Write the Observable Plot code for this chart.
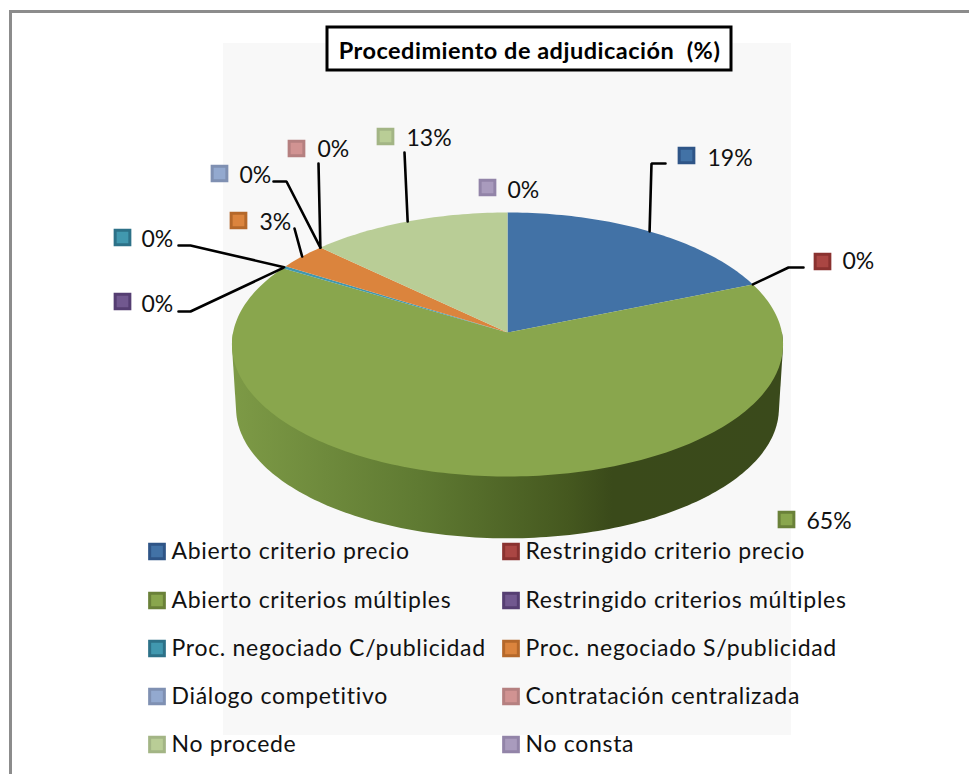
<!DOCTYPE html>
<html><head><meta charset="utf-8">
<script src="https://cdn.jsdelivr.net/npm/d3@7"></script>
<script src="https://cdn.jsdelivr.net/npm/@observablehq/plot@0.6"></script>
<style>html,body{margin:0;padding:0;background:#fff}svg{display:block}</style>
</head><body><div id="chart"></div>
<script>
// Data
const categories = ["Abierto criterio precio","Restringido criterio precio","Abierto criterios múltiples","Restringido criterios múltiples","Proc. negociado C/publicidad","Proc. negociado S/publicidad","Diálogo competitivo","Contratación centralizada","No procede","No consta"];
const values = [18.8,0,64.8,0,0.3,3.2,0,0,12.9,0];
const valueLabels = ["19%","0%","65%","0%","0%","3%","0%","0%","13%","0%"];
const fills = ["#4272a6","#aa4643","#89a64d","#71588f","#4198af","#db843d","#93a9cf","#d19392","#b9cd96","#a99bbd"];
const strokes = ["#2f5587","#8a3230","#6a8139","#553e72","#2d7188","#b5682a","#7f90b2","#b58080","#a3b585","#9284a8"];
const title = "Procedimiento de adjudicación  (%)";

// Layout (plot coordinates)
const labelSwatchX = [686,822,786,122,122,238,219,296,385,487];
const labelSwatchY = [155,261,519,301,237,220,173,148,136,187];
const labelTextX = [707,842,806,141,141,259,239,317,406,507];
const labelTextY = [158,261,521,304,239,222,175,149,138,190];
const elbows = [[[651,163],[665,163]],[[788,267],[803,267]],[],[[190,311],[178,311]],[[190,245],[178,245]],[[294,228]],[[286,181],[273,181]],[[318,163]],[[404,152]],[]];
const legendX = [148,502], legendTextX = [171,525], legendRowY = [551,600,648,696,744];

// Perspective disc
const cx = 507, cy = 332, rx = 274.4, ry = 130.9, k = 0.0909, wallDrop = 64, wallScale = 0.985;
const project = (a, s = 1, dy = 0) => {
  const u = Math.sin(a), v = -Math.cos(a), w = 1 - k * v;
  return {x: cx + s * rx * u / w, y: cy + dy + s * ry * v / w};
};
const total = d3.sum(values);
const arcs = []; { let c = 0; values.forEach((v,i)=>{ const a0 = c/total*2*Math.PI; c += v; arcs.push({i, name:categories[i], a0, a1:c/total*2*Math.PI}); }); }
const slicePts = arcs.filter(d=>d.a1>d.a0).flatMap(d=>{
  const n = Math.max(2, Math.ceil((d.a1-d.a0)/0.02));
  const pts = [{name:d.name,x:cx,y:cy}];
  for (let j=0;j<=n;j++) pts.push({name:d.name,...project(d.a0+(d.a1-d.a0)*j/n)});
  return pts;
});
const wallRaw = [];
for (let a=Math.PI/2;a<=3*Math.PI/2;a+=0.02) { const t=project(a), b=project(a,wallScale,wallDrop); wallRaw.push([t.x,t.y],[b.x,b.y]); }
const wallPts = d3.polygonHull(wallRaw).map(([x,y])=>({x,y}));

const leaderPts = arcs.flatMap((d,i)=>{
  if (!elbows[i].length) return [];
  const p = project((d.a0+d.a1)/2);
  return [{id:i,x:p.x,y:p.y},...elbows[i].map(e=>({id:i,x:e[0],y:e[1]}))];
});
const labels = categories.map((name,i)=>({name,i,text:valueLabels[i],sx:labelSwatchX[i],sy:labelSwatchY[i],tx:labelTextX[i],ty:labelTextY[i],stroke:strokes[i]}));
const legend = categories.map((name,i)=>({name,i,sx:legendX[i%2],tx:legendTextX[i%2],y:legendRowY[Math.floor(i/2)],stroke:strokes[i]}));

const font = "Lato, 'Open Sans', sans-serif";
const spaced = px => (index, scales, values, dims, context, next) => {
  const g = next(index, scales, values, dims, context);
  g.style.letterSpacing = px + "px";
  return g;
};
const defs = () => {
  const d = d3.create("svg:defs");
  const g = d.append("linearGradient").attr("id","wall").attr("gradientUnits","userSpaceOnUse").attr("x1",232).attr("x2",782).attr("y1",0).attr("y2",0);
  [[0,"#7d9a46"],[0.34,"#5f7a32"],[0.61,"#45581f"],[0.69,"#3a4a1a"],[1,"#3a4a1b"]].forEach(([o,c])=>g.append("stop").attr("offset",o).attr("stop-color",c));
  return d.node();
};

const chart = Plot.plot({
  width:969,height:774,margin:0,
  style:{background:"#fff",fontFamily:font},
  x:{domain:[0,969],range:[0,969],axis:null},
  y:{domain:[0,774],range:[0,774],axis:null},
  color:{domain:categories,range:fills},
  marks:[
    defs,
    Plot.rect([{}],{x1:()=>223,x2:()=>791,y1:()=>43,y2:()=>735,fill:"#f8f8f8"}),
    Plot.ruleX([10],{y1:11,y2:774,stroke:"#8c8c8c",strokeWidth:3}),
    Plot.ruleY([11],{x1:9,x2:969,stroke:"#8c8c8c",strokeWidth:3}),
    Plot.line(wallPts,{x:"x",y:"y",fill:"url(#wall)",stroke:"none"}),
    Plot.line(slicePts,{x:"x",y:"y",z:"name",fill:"name",stroke:"none"}),
    Plot.line(leaderPts,{x:"x",y:"y",z:"id",stroke:"#000",strokeWidth:2.6,strokeLinejoin:"miter"}),
    Plot.dot(labels,{x:"sx",y:"sy",symbol:"square",r:8.3,fill:"name",stroke:{value:"stroke",scale:null},strokeWidth:3}),
    Plot.text(labels,{x:"tx",y:"ty",text:"text",textAnchor:"start",fontSize:23,fill:"#111",stroke:"none"}),
    Plot.dot(legend,{x:d=>d.sx+8.5,y:"y",symbol:"square",r:8.3,fill:"name",stroke:{value:"stroke",scale:null},strokeWidth:3}),
    Plot.text(legend,{x:"tx",y:"y",text:"name",textAnchor:"start",fontSize:23,fill:"#111",stroke:"none",render:spaced(0.7)}),
    Plot.rect([{}],{x1:()=>327,x2:()=>731,y1:()=>27,y2:()=>70,fill:"#fff",stroke:"#000",strokeWidth:3}),
    Plot.text([title],{x:()=>529,y:()=>51,text:d=>d,fontSize:23.5,fontWeight:700,fill:"#000",stroke:"none",render:spaced(0.5)})
  ]
});
document.getElementById("chart").appendChild(chart);
</script></body></html>
